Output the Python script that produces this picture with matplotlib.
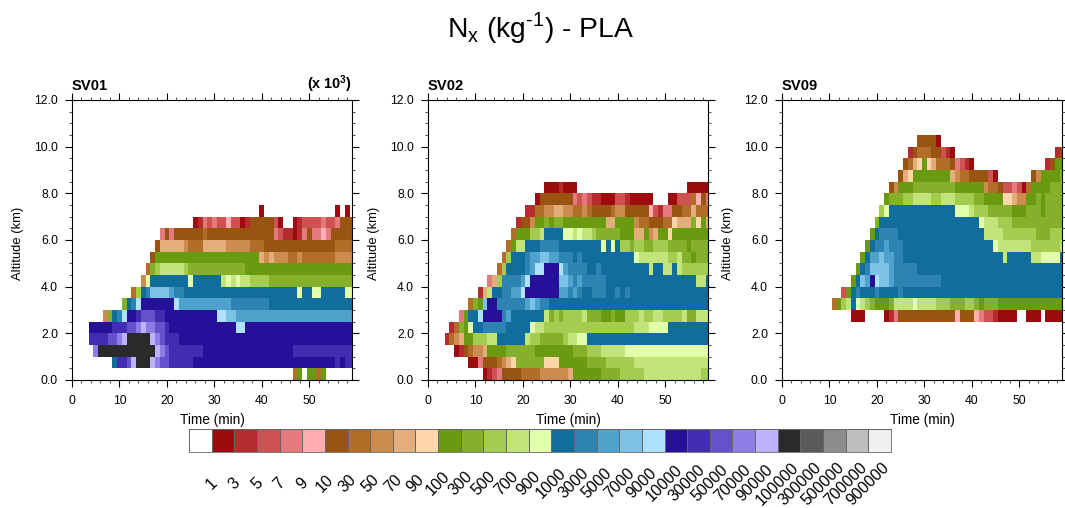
"""Nx (kg-1) PLA time-height panels for SV01, SV02 and SV09."""

import matplotlib

matplotlib.use("Agg")
import matplotlib.pyplot as plt
import numpy as np
from matplotlib.colors import BoundaryNorm, ListedColormap

plt.rcParams["font.family"] = ["Liberation Sans", "DejaVu Sans"]
plt.rcParams["mathtext.fontset"] = "custom"
plt.rcParams["mathtext.rm"] = "Liberation Sans"
plt.rcParams["mathtext.bf"] = "Liberation Sans:bold"

W, H = 1065, 508

# index into these = level code used in the rows below (0 = below first level)
level_labels = ["1", "3", "5", "7", "9", "10", "30", "50", "70", "90",
                "100", "300", "500", "700", "900", "1000", "3000", "5000", "7000", "9000",
                "10000", "30000", "50000", "70000", "90000",
                "100000", "300000", "500000", "700000", "900000"]
level_colors = ["#ffffff",
                "#9c0c0e", "#b52c2e", "#cf5252", "#e57a7e", "#ffadb0",
                "#985410", "#b26d29", "#cc8c4f", "#e4ae7c", "#ffd5aa",
                "#6a9a10", "#84b02c", "#a3cc50", "#c2e47a", "#e2ffab",
                "#106d9c", "#2d84b2", "#4fa2cc", "#7bc2e5", "#aee2ff",
                "#260f99", "#422cb2", "#6551cc", "#8f7ce5", "#bfb1ff",
                "#2a2a2a", "#5a5a5a", "#8c8c8c", "#bebebe", "#f0f0f0"]

# each row is one 0.5 km layer, bottom first: (start minute, level code), runs to next start
sv01_rows = [
    [(47, 7), (48, 11), (49, 0), (50, 11), (52, 7), (53, 11), (54, 0)],
    [(9, 16), (10, 22), (12, 23), (13, 25), (14, 26), (17, 25), (18, 24), (19, 23), (21, 22), (26, 21), (56, 22), (57, 21), (58, 22)],
    [(5, 24), (6, 26), (18, 25), (19, 24), (20, 23), (21, 22), (28, 21), (47, 22)],
    [(4, 22), (8, 23), (10, 24), (11, 25), (12, 26), (17, 25), (18, 24), (19, 23), (20, 22), (23, 21)],
    [(4, 21), (9, 22), (12, 23), (14, 24), (15, 25), (16, 24), (18, 23), (20, 22), (21, 21), (35, 20), (37, 21)],
    [(7, 8), (8, 12), (9, 16), (10, 17), (11, 20), (12, 21), (14, 22), (15, 23), (18, 22), (20, 21), (31, 20), (33, 19), (35, 18)],
    [(11, 12), (12, 16), (13, 17), (14, 20), (15, 21), (22, 20), (23, 18), (34, 17), (42, 16)],
    [(13, 7), (14, 13), (15, 16), (16, 17), (17, 19), (21, 18), (22, 17), (24, 16), (48, 15), (49, 16), (51, 15), (53, 16), (58, 15)],
    [(15, 8), (16, 15), (17, 16), (25, 15), (26, 16), (32, 14), (33, 15), (34, 14), (35, 15), (36, 14), (38, 13), (42, 12)],
    [(16, 7), (17, 12), (18, 13), (19, 14), (24, 13), (25, 12), (37, 11)],
    [(17, 6), (18, 11), (40, 9), (41, 8), (42, 9), (43, 8), (46, 7), (48, 8), (49, 7), (56, 8)],
    [(18, 6), (19, 9), (24, 8), (25, 7), (28, 9), (33, 8), (38, 7), (41, 6), (56, 7)],
    [(19, 4), (20, 6), (21, 4), (22, 6), (28, 7), (29, 6), (43, 4), (44, 3), (45, 2), (47, 1), (48, 2), (49, 4), (50, 6), (51, 4), (53, 5), (54, 4), (55, 6)],
    [(26, 1), (27, 2), (28, 4), (29, 3), (30, 4), (31, 3), (33, 5), (34, 3), (36, 1), (37, 2), (38, 6), (43, 3), (44, 1), (45, 0), (47, 1), (48, 2), (49, 3), (53, 4), (54, 3), (56, 4), (57, 6)],
    [(40, 1), (41, 0), (56, 1), (57, 0), (58, 1), (59, 0)],
]
sv02_rows = [
    [(12, 1), (13, 2), (14, 3), (15, 4), (16, 6), (20, 7), (24, 8), (30, 9), (31, 11), (37, 12), (41, 13), (46, 14), (58, 13)],
    [(9, 1), (11, 4), (12, 6), (15, 7), (16, 8), (17, 9), (18, 10), (19, 12), (25, 10), (28, 11), (34, 12), (38, 13), (44, 14)],
    [(6, 1), (7, 2), (8, 6), (9, 7), (10, 8), (12, 9), (13, 11), (17, 12), (23, 11), (31, 12), (34, 13), (37, 14), (42, 15)],
    [(4, 2), (5, 7), (6, 8), (7, 9), (8, 11), (10, 13), (13, 14), (15, 16), (21, 14), (22, 13), (24, 12), (29, 13), (30, 14), (32, 15), (34, 16)],
    [(5, 2), (6, 7), (7, 12), (8, 11), (9, 15), (10, 16), (12, 17), (17, 16), (22, 15), (23, 14), (25, 13), (44, 14), (47, 15), (51, 16)],
    [(7, 4), (8, 11), (9, 16), (11, 20), (12, 21), (16, 17), (17, 18), (18, 16), (25, 14), (26, 12), (27, 13), (28, 12), (29, 13), (33, 14), (34, 12), (37, 11), (39, 12), (40, 11), (42, 13), (45, 14), (46, 13), (48, 14), (50, 13), (54, 14), (55, 12), (57, 14)],
    [(9, 7), (10, 12), (11, 11), (12, 19), (13, 21), (15, 17), (21, 18), (22, 19), (23, 18), (24, 17), (26, 16)],
    [(11, 2), (12, 9), (13, 14), (14, 16), (16, 17), (18, 18), (20, 20), (21, 21), (28, 18), (30, 17), (31, 18), (32, 17), (33, 16), (35, 17), (38, 16), (40, 17), (41, 16), (42, 17), (43, 16)],
    [(13, 4), (14, 9), (15, 13), (16, 17), (20, 18), (21, 20), (22, 21), (28, 19), (30, 18), (31, 17), (32, 18), (33, 17), (38, 16), (57, 14), (59, 16)],
    [(15, 7), (16, 13), (17, 16), (21, 17), (22, 18), (23, 20), (25, 21), (28, 20), (29, 18), (30, 17), (34, 16), (36, 17), (37, 16), (47, 14), (48, 16), (50, 14), (52, 16), (53, 14), (54, 13)],
    [(16, 7), (17, 13), (18, 16), (21, 17), (22, 18), (24, 19), (26, 18), (28, 17), (31, 16), (32, 17), (33, 16), (44, 15), (45, 14), (51, 13), (53, 14), (54, 12), (56, 11), (57, 12)],
    [(17, 7), (18, 11), (19, 14), (21, 16), (24, 17), (28, 16), (37, 15), (38, 16), (39, 15), (40, 16), (41, 13), (43, 12), (44, 13), (46, 12), (48, 13), (51, 12), (55, 11), (56, 12)],
    [(18, 7), (19, 11), (22, 13), (24, 14), (25, 16), (29, 15), (31, 14), (32, 15), (33, 14), (35, 13), (36, 12), (41, 11), (44, 9), (46, 11), (47, 8), (48, 9), (49, 11), (51, 10), (52, 11)],
    [(19, 2), (20, 6), (22, 8), (23, 11), (25, 12), (26, 11), (27, 12), (29, 11), (38, 9), (40, 11), (44, 8), (45, 7), (47, 6), (50, 7), (52, 10), (53, 9), (56, 12), (57, 10), (58, 11), (59, 9)],
    [(21, 2), (23, 7), (25, 8), (27, 9), (29, 8), (31, 7), (33, 8), (34, 7), (35, 6), (39, 7), (40, 8), (42, 6), (47, 5), (48, 3), (49, 2), (50, 4), (52, 6), (54, 7), (56, 9), (57, 7)],
    [(23, 1), (24, 6), (31, 4), (32, 3), (33, 4), (34, 3), (35, 2), (37, 1), (40, 3), (42, 2), (43, 1), (48, 0), (51, 1), (53, 3), (56, 7), (57, 5), (58, 6), (59, 4)],
    [(25, 1), (28, 2), (29, 1), (32, 0), (55, 1)],
]
sv09_rows = [
    [], [], [], [], [],
    [(15, 1), (18, 0), (22, 1), (23, 2), (24, 4), (25, 6), (37, 5), (38, 6), (41, 5), (42, 4), (43, 3), (45, 2), (46, 1), (50, 0), (52, 1), (55, 0), (56, 1)],
    [(11, 7), (12, 11), (13, 13), (14, 14), (15, 16), (16, 15), (17, 14), (18, 13), (19, 12), (20, 11), (23, 12), (24, 14), (28, 15), (29, 14), (33, 13), (36, 12), (39, 13), (41, 12), (42, 11), (43, 12), (46, 11)],
    [(13, 3), (14, 11), (15, 16), (16, 17), (17, 16), (20, 17), (21, 16), (25, 17), (26, 16)],
    [(15, 11), (16, 16), (17, 19), (18, 18), (19, 21), (20, 20), (21, 19), (23, 18), (24, 17), (34, 16)],
    [(16, 11), (17, 16), (18, 17), (19, 19), (23, 18), (24, 17), (29, 16)],
    [(17, 11), (18, 16), (19, 18), (21, 19), (22, 18), (24, 17), (26, 16), (47, 14), (48, 16), (53, 14), (55, 15), (59, 16)],
    [(18, 11), (19, 16), (20, 17), (22, 18), (23, 17), (26, 16), (45, 15), (46, 14), (49, 14), (53, 13), (59, 14)],
    [(19, 11), (20, 16), (21, 17), (25, 16), (43, 14), (47, 13), (54, 12), (57, 13)],
    [(20, 12), (21, 16), (42, 15), (43, 14), (46, 13), (49, 12)],
    [(21, 13), (22, 15), (23, 16), (37, 15), (40, 14), (41, 13), (44, 12), (49, 11), (52, 12), (55, 11), (56, 12)],
    [(22, 11), (23, 12), (26, 13), (28, 14), (32, 13), (34, 14), (37, 13), (41, 12), (43, 11), (47, 10), (49, 9), (50, 8), (52, 11), (54, 12), (55, 11), (56, 12)],
    [(23, 6), (24, 8), (25, 11), (28, 12), (37, 11), (43, 8), (44, 7), (46, 6), (47, 3), (49, 4), (50, 3), (51, 1), (52, 7), (53, 11), (57, 12)],
    [(25, 6), (26, 9), (27, 10), (28, 11), (36, 9), (37, 8), (38, 7), (40, 6), (44, 3), (45, 1), (46, 0), (53, 6), (54, 8), (55, 11), (59, 12)],
    [(26, 6), (27, 7), (28, 9), (29, 10), (30, 11), (31, 10), (32, 9), (33, 7), (36, 6), (37, 4), (38, 3), (39, 2), (40, 1), (41, 0), (56, 2), (57, 6), (58, 11)],
    [(27, 2), (28, 6), (29, 7), (32, 6), (34, 3), (35, 2), (36, 1), (37, 0), (58, 2), (59, 6)],
    [(29, 6), (33, 1), (34, 0)],
]

panel_names = ["SV01", "SV02", "SV09"]
panel_rows = [sv01_rows, sv02_rows, sv09_rows]
panel_left = [72, 428, 782]
panel_width = 280
panel_top, panel_bottom = 100, 380


def fig_x(px):
    return px / W


def fig_y(py):
    return 1 - py / H


def rows_to_grid(rows):
    grid = np.zeros((24, 60), dtype=int)
    for k, row in enumerate(rows):
        for i, (start, level) in enumerate(row):
            end = row[i + 1][0] if i + 1 < len(row) else 60
            grid[k, start:end] = level
    return grid


def draw_panel(fig, left, name, rows, cmap, norm):
    ax = fig.add_axes([fig_x(left), fig_y(panel_bottom), panel_width / W, (panel_bottom - panel_top) / H])
    grid = rows_to_grid(rows)
    x_edges = np.arange(61) - 0.5
    y_edges = np.arange(25) * 0.5
    ax.pcolormesh(x_edges, y_edges, grid, cmap=cmap, norm=norm, shading="flat")
    ax.set_xlim(0, 59)
    ax.set_ylim(0, 12)
    ax.set_xticks(np.arange(0, 60, 10))
    ax.set_xticks(np.arange(0, 60, 2), minor=True)
    ax.set_yticks(np.arange(0, 13, 2))
    ax.set_yticks(np.arange(0, 12.5, 0.5), minor=True)
    ax.set_yticklabels([f"{v:.1f}" for v in np.arange(0, 13, 2)])
    ax.tick_params(which="major", direction="out", length=5, width=0.8, top=True, right=True, labelsize=8.8)
    ax.tick_params(which="minor", direction="out", length=2.5, width=0.5, top=True, right=True)
    ax.tick_params(axis="x", which="major", pad=6)
    ax.tick_params(axis="y", which="major", pad=5)
    for spine in ax.spines.values():
        spine.set_linewidth(0.8)
    fig.text(fig_x(left + 140), fig_y(420), "Time (min)", ha="center", va="center", fontsize=9.8)
    fig.text(fig_x(left - 54), fig_y(243), "Altitude (km)", ha="center", va="center", rotation=90, fontsize=9.4)
    fig.text(fig_x(left), fig_y(86), name, ha="left", va="center", fontsize=10.6, fontweight="bold")
    return ax


def draw_colorbar(fig, cmap, norm):
    left, right, top, bottom = 189, 891, 429, 452
    ax = fig.add_axes([fig_x(left), fig_y(bottom), (right - left) / W, (bottom - top) / H])
    codes = np.arange(len(level_colors)).reshape(1, -1)
    ax.pcolormesh(np.arange(codes.size + 1), [0, 1], codes, cmap=cmap, norm=norm,
                  edgecolors="#666666", linewidth=0.4)
    ax.set_xlim(0, codes.size)
    ax.set_ylim(0, 1)
    ax.set_xticks([])
    ax.set_yticks([])
    for spine in ax.spines.values():
        spine.set_linewidth(0.6)
        spine.set_color("#666666")
    step = (right - left) / codes.size
    for i, label in enumerate(level_labels):
        fig.text(fig_x(left + (i + 1) * step), fig_y(483.5), label, rotation=45,
                 ha="center", va="center", fontsize=11.5)


def main():
    cmap = ListedColormap(level_colors)
    norm = BoundaryNorm(np.arange(len(level_colors) + 1) - 0.5, len(level_colors))

    fig = plt.figure(figsize=(W / 100, H / 100), dpi=100)
    for left, name, rows in zip(panel_left, panel_names, panel_rows):
        draw_panel(fig, left, name, rows, cmap, norm)

    fig.text(fig_x(352), fig_y(84), r"(x 10$^{\mathbf{3}}$)", ha="right", va="center", fontsize=10.4, fontweight="bold")
    fig.text(fig_x(540), fig_y(28), r"N$_{\mathregular{x}}$ (kg$^{\text{-1}}$) - PLA",
             ha="center", va="center", fontsize=20.3)
    draw_colorbar(fig, cmap, norm)
    fig.savefig("out.png", dpi=100)


if __name__ == "__main__":
    main()
